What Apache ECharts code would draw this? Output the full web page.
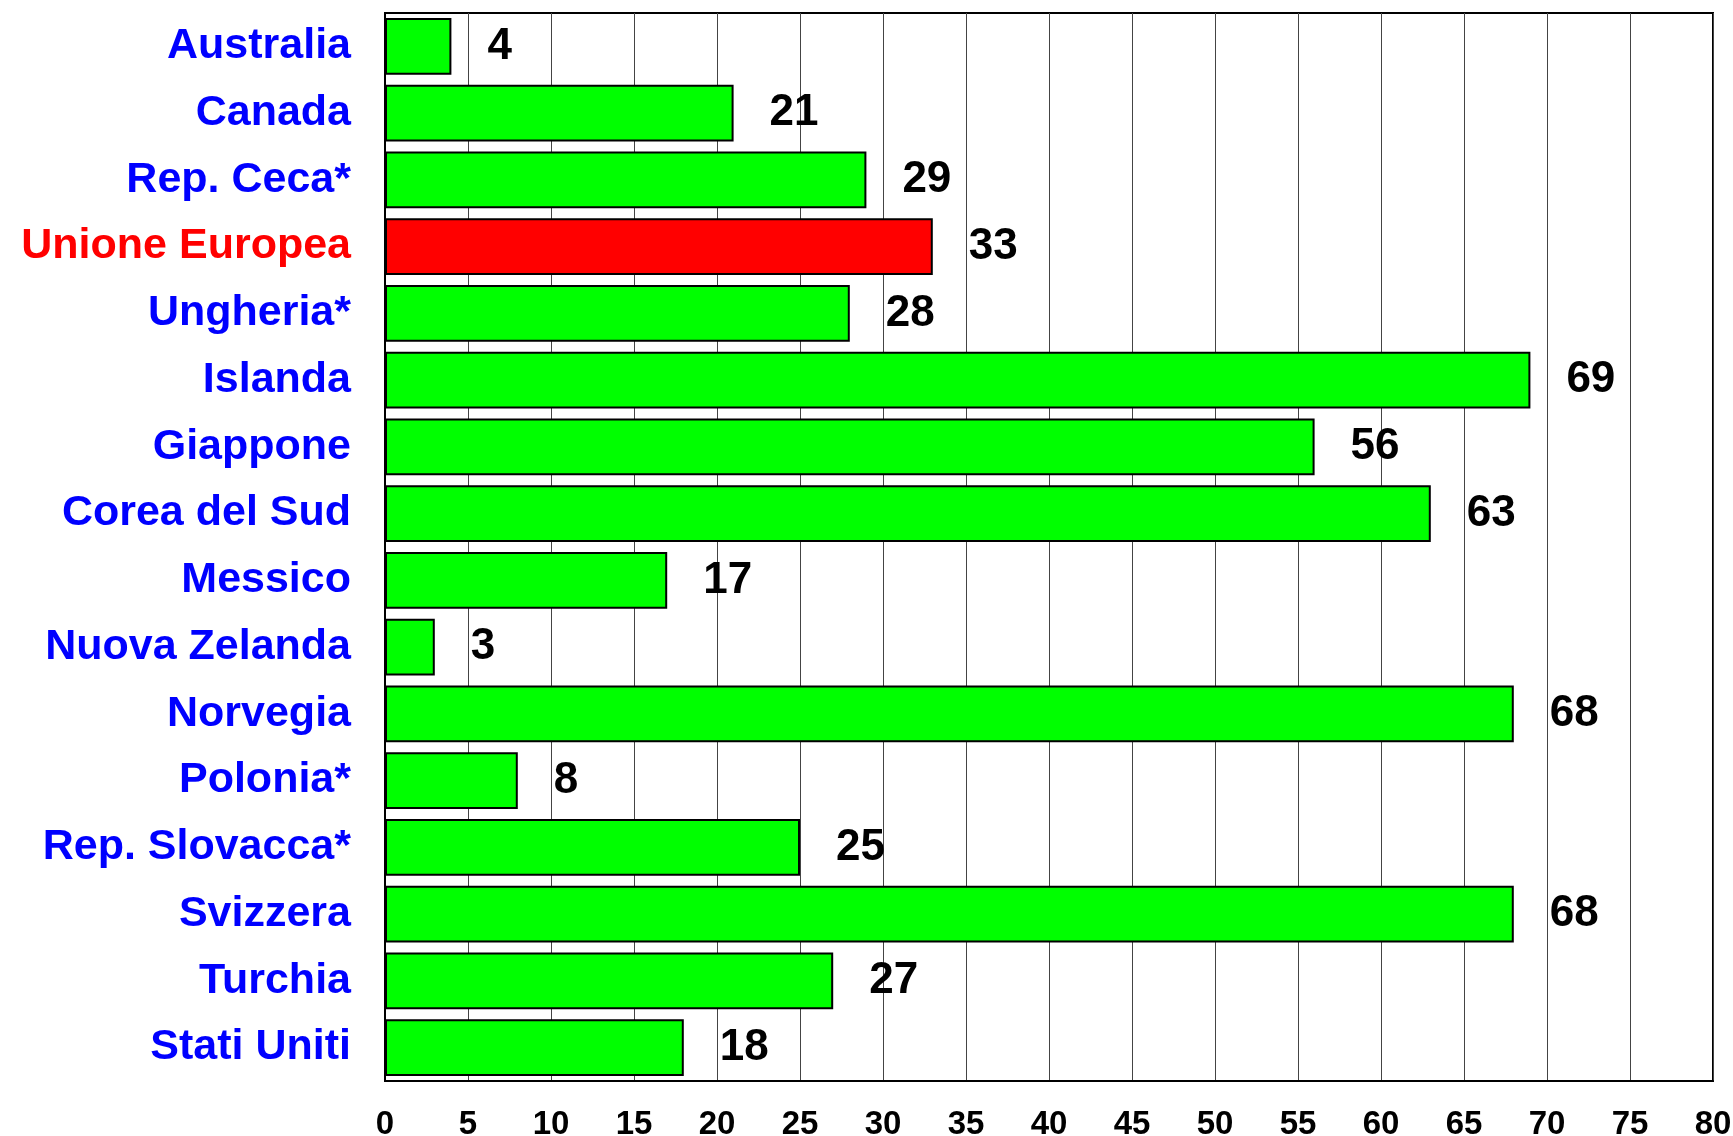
<!DOCTYPE html>
<html>
<head>
<meta charset="utf-8">
<script src="https://cdn.jsdelivr.net/npm/echarts@6/dist/echarts.min.js"></script>
<style>
  html, body { margin: 0; padding: 0; background: #fff; }
  #chart_bar { width: 1733px; height: 1136px; }
</style>
</head>
<body>
<div id="chart_bar"></div>
<script>
let countries = ['Australia', 'Canada', 'Rep. Ceca*', 'Unione Europea', 'Ungheria*', 'Islanda', 'Giappone',
    'Corea del Sud', 'Messico', 'Nuova Zelanda', 'Norvegia', 'Polonia*', 'Rep. Slovacca*', 'Svizzera', 'Turchia', 'Stati Uniti'];
let values = [4, 21, 29, 33, 28, 69, 56, 63, 17, 3, 68, 8, 25, 68, 27, 18];
let xTicks = [0, 80, 5]; // min, max, step
let highlight = 'Unione Europea';

let chart_bar = document.getElementById("chart_bar");
let myChart = echarts.init(chart_bar);

let font = 'Liberation Sans, Arial, sans-serif';

let option = {
    animation: false,
    grid: {
        left: 385,
        right: 20,
        top: 13,
        bottom: 55,
        outerBoundsMode: 'none',
        show: true,
        borderColor: '#000',
        borderWidth: 2
    },
    xAxis: {
        type: 'value',
        min: xTicks[0],
        max: xTicks[1],
        interval: xTicks[2],
        axisLine: { show: true, lineStyle: { color: '#000', width: 2 } },
        axisTick: { show: false },
        splitLine: { show: true, lineStyle: { color: '#444', width: 1 } },
        axisLabel: {
            margin: 27,
            color: '#000',
            fontFamily: font,
            fontWeight: 'bold',
            fontSize: 33
        }
    },
    yAxis: {
        type: 'category',
        inverse: true,
        data: countries,
        axisLine: { show: true, lineStyle: { color: '#000', width: 2 } },
        axisTick: { show: false },
        axisLabel: {
            margin: 34,
            fontFamily: font,
            fontWeight: 'bold',
            fontSize: 43,
            color: function (value) {
                return value === highlight ? '#ff0000' : '#0000ff';
            }
        }
    },
    series: [{
        type: 'bar',
        barCategoryGap: '15%',
        data: values.map(function (v, i) {
            return {
                value: v,
                itemStyle: { color: countries[i] === highlight ? '#ff0000' : '#00ff00' }
            };
        }),
        itemStyle: { borderColor: '#000', borderWidth: 2 },
        label: {
            show: true,
            position: 'right',
            distance: 36,
            color: '#000',
            fontFamily: font,
            fontWeight: 'bold',
            fontSize: 44
        }
    }]
};

myChart.setOption(option);
</script>
</body>
</html>
